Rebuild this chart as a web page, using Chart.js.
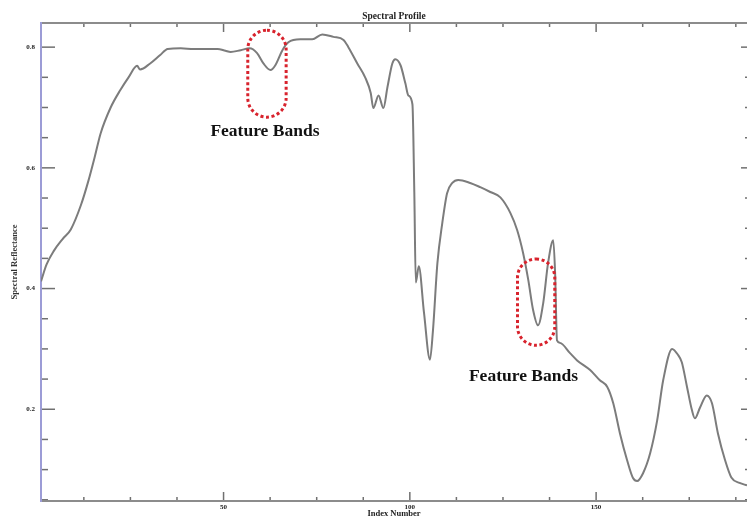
<!DOCTYPE html>
<html><head><meta charset="utf-8">
<script src="https://cdn.jsdelivr.net/npm/chart.js@4/dist/chart.umd.min.js"></script>
<style>html,body{margin:0;padding:0;background:#fff;overflow:hidden}</style>
</head><body>
<canvas id="c" width="747" height="519"></canvas>
<script>
const bandIndex = [1,2.5,4.4,6.8,9,11.7,13.7,15.5,17,19.7,22.3,24.5,26.8,27.6,30.3,33,35,38.5,42,45,48.4,50.5,51.9,54.6,57,59,60.7,62.6,63.9,65.8,67.4,70.6,73.8,76.5,79.5,82.2,83.5,85.9,88,89.5,90.2,91.6,92.9,94,95.3,96.1,97.5,98.8,99.6,100.7,101.2,101.6,102.4,103.8,105.4,106.2,107.4,108.7,110,111.4,113,116.2,118.9,121.6,124.3,127,128.8,130.4,131.8,133.1,134.4,135.8,137.1,138.5,139,139.5,140.3,143,144.9,148.4,151,153,154.6,156.4,158.3,159.9,161,162.6,164.5,166.4,168,170.4,172,173,174.4,175.7,176.5,177.9,179.7,181.1,182.7,184.6,186.3,188.5,190.5];
const reflectance = [0.412,0.44,0.462,0.482,0.498,0.538,0.578,0.62,0.657,0.70,0.729,0.750,0.769,0.763,0.773,0.787,0.797,0.798,0.797,0.797,0.797,0.794,0.792,0.795,0.798,0.79,0.773,0.762,0.77,0.795,0.808,0.813,0.813,0.821,0.817,0.812,0.80,0.773,0.75,0.724,0.699,0.72,0.699,0.734,0.773,0.78,0.77,0.74,0.72,0.705,0.56,0.41,0.437,0.36,0.282,0.33,0.442,0.508,0.558,0.575,0.58,0.575,0.568,0.56,0.551,0.525,0.497,0.459,0.414,0.364,0.339,0.376,0.442,0.48,0.425,0.314,0.31,0.293,0.281,0.265,0.248,0.237,0.21,0.16,0.116,0.086,0.081,0.094,0.127,0.182,0.248,0.30,0.29,0.278,0.237,0.199,0.185,0.203,0.223,0.21,0.16,0.116,0.087,0.078,0.074];
const xTickValues = [50,100,150];
const yTickValues = [0.2,0.4,0.6,0.8];
const xMinorStep = 12.5;
const yMinorStep = 0.05;
const chartTitle = 'Spectral Profile';
const xTitle = 'Index Number';
const yTitle = 'Spectral Reflectance';
const featureText = 'Feature Bands';
const featureBoxX = [[56.5,66.8],[128.9,138.9]];
const featureBoxY = [[0.684,0.828],[0.306,0.449]];
const featureLabelX = [61.1,130.5];
const featureLabelY = [0.661,0.255];

const serif = '"Liberation Serif","Times New Roman",serif';

const axesPlugin = {
  id: 'axesFrame',
  beforeDatasetsDraw(chart) {
    const {ctx, chartArea: a, scales: {x, y}} = chart;
    ctx.save();
    const seg = (x1, y1, x2, y2) => { ctx.beginPath(); ctx.moveTo(x1, y1); ctx.lineTo(x2, y2); ctx.stroke(); };
    ctx.strokeStyle = '#707070';
    ctx.lineWidth = 1.5;
    for (let k = 1; k * xMinorStep <= x.max; k++) {
      const v = k * xMinorStep;
      if (v < x.min) continue;
      const px = x.getPixelForValue(v);
      const major = xTickValues.includes(v);
      seg(px, a.bottom, px, a.bottom - (major ? 9 : 4));
      seg(px, a.top, px, a.top + (major ? 9 : 4));
    }
    for (let k = 1; k * yMinorStep <= y.max + 1e-9; k++) {
      const v = k * yMinorStep;
      if (v < y.min) continue;
      const py = y.getPixelForValue(v);
      const major = k % 4 === 0;
      seg(a.left, py, a.left + (major ? 14 : 7), py);
      seg(a.right, py, a.right - (major ? 6 : 2), py);
    }
    ctx.lineWidth = 2;
    ctx.strokeStyle = '#8c8c8c';
    seg(a.left, a.top, a.right, a.top);
    seg(a.left, a.bottom, a.right, a.bottom);
    ctx.strokeStyle = '#9c9cd6';
    seg(a.left, a.top - 1, a.left, a.bottom + 1);
    ctx.restore();
  },
  afterDatasetsDraw(chart) {
    const {ctx, scales: {x, y}} = chart;
    ctx.save();
    ctx.strokeStyle = '#d8232d';
    ctx.lineWidth = 3;
    ctx.lineCap = 'butt';
    ctx.setLineDash([3, 2.6]);
    featureBoxX.forEach((bx, i) => {
      const by = featureBoxY[i];
      const x0 = x.getPixelForValue(bx[0]), x1 = x.getPixelForValue(bx[1]);
      const y0 = y.getPixelForValue(by[1]), y1 = y.getPixelForValue(by[0]);
      const r = (x1 - x0) / 2;
      ctx.beginPath();
      ctx.roundRect(x0, y0, x1 - x0, y1 - y0, r);
      ctx.stroke();
    });
    ctx.setLineDash([]);
    ctx.fillStyle = '#111';
    ctx.font = 'bold 17.5px ' + serif;
    ctx.textAlign = 'center';
    ctx.textBaseline = 'middle';
    featureLabelX.forEach((lx, i) => {
      ctx.fillText(featureText, x.getPixelForValue(lx), y.getPixelForValue(featureLabelY[i]));
    });
    ctx.restore();
  }
};

new Chart(document.getElementById('c'), {
  type: 'line',
  data: {
    datasets: [{
      data: bandIndex.map((v, i) => ({x: v, y: reflectance[i]})),
      borderColor: '#7c7c7c',
      borderWidth: 2,
      pointRadius: 0,
      fill: false,
      cubicInterpolationMode: 'monotone'
    }]
  },
  options: {
    responsive: false,
    animation: false,
    devicePixelRatio: 1,
    layout: {padding: {left: 0, right: 0, top: 0, bottom: 0}},
    plugins: {
      legend: {display: false},
      tooltip: {enabled: false},
      title: {
        display: true, text: chartTitle, fullSize: false,
        color: '#222', font: {family: serif, size: 9.5, weight: 'bold'},
        padding: {top: 11, bottom: 0.6}
      }
    },
    scales: {
      x: {
        type: 'linear', min: 1, max: 190.5,
        afterBuildTicks: s => { s.ticks = xTickValues.map(v => ({value: v})); },
        afterFit: s => { s.height = 18; },
        grid: {display: false, drawTicks: false},
        border: {display: false},
        ticks: {color: '#222', padding: 2, maxRotation: 0, autoSkip: false,
                font: {family: serif, size: 7, weight: 'bold'}},
        title: {display: true, text: xTitle, color: '#222', padding: {top: 0, bottom: 0},
                font: {family: serif, size: 8.5, weight: 'bold'}}
      },
      y: {
        type: 'linear', min: 0.048, max: 0.84,
        afterBuildTicks: s => { s.ticks = yTickValues.map(v => ({value: v})); },
        afterFit: s => { s.width = 41; },
        grid: {display: false, drawTicks: false},
        border: {display: false},
        ticks: {color: '#222', padding: 6, autoSkip: false,
                font: {family: serif, size: 7, weight: 'bold'},
                callback: v => String(v)},
        title: {display: true, text: yTitle, color: '#333', padding: {top: 10, bottom: 0},
                font: {family: serif, size: 8.6, weight: 'bold'}}
      }
    }
  },
  plugins: [axesPlugin]
});
</script>
</body></html>
